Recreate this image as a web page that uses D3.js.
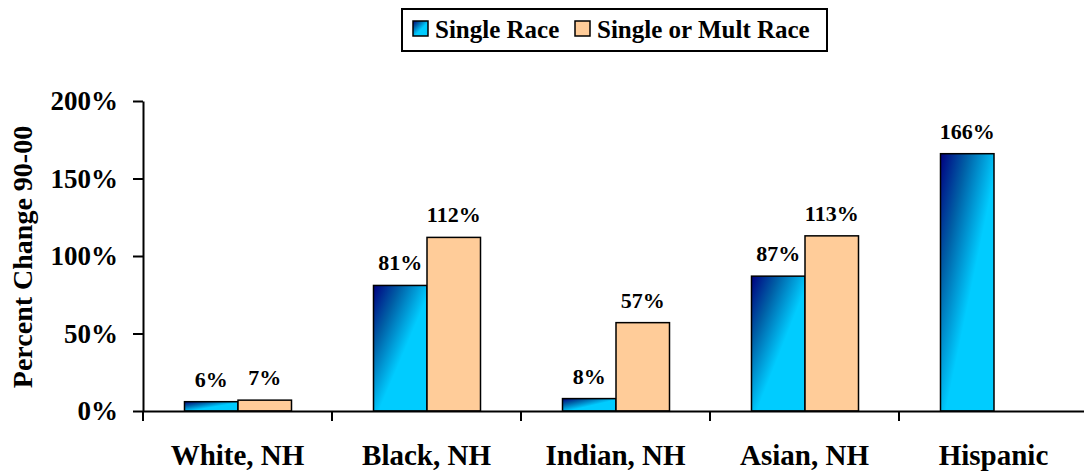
<!DOCTYPE html>
<html>
<head>
<meta charset="utf-8">
<script src="https://cdn.jsdelivr.net/npm/d3@7"></script>
<style>
    body { margin: 0; background: #fff; }
    svg { display: block; font-family: 'Liberation Serif', 'Times New Roman', serif; font-weight: bold; }
</style>
</head>
<body>
<svg id="race-chart" width="1084" height="471"></svg>
<script>
'use strict';

var categories = ['White, NH', 'Black, NH', 'Indian, NH', 'Asian, NH', 'Hispanic']
var seriesNames = ['Single Race', 'Single or Mult Race']
var singleRace = [0.06, 0.81, 0.08, 0.87, 1.66]
var singleOrMult = [0.07, 1.12, 0.57, 1.13, null]
var yTicks = [0, 0.5, 1, 1.5, 2]

var serif = "'Liberation Serif', 'Times New Roman', serif"

var svg = d3.select('#race-chart')

var x = d3.scaleBand()
    .domain(categories)
    .range([143, 1088])

var xInner = d3.scaleBand()
    .domain(seriesNames)
    .range([41.5, 148.5])

var y = d3.scaleLinear()
    .domain([0, 2])
    .range([411, 101])

var fmt = d3.format('.0%')

// gradient for the blue bars: navy top-left fading to cyan
var defs = svg.append('defs')
var grad = defs.append('linearGradient')
    .attr('id', 'blueGrad')
    .attr('x1', 0).attr('y1', 0)
    .attr('x2', 1).attr('y2', 1)
grad.append('stop').attr('offset', 0).attr('stop-color', '#000080')
grad.append('stop').attr('offset', 0.25).attr('stop-color', '#005fa6')
grad.append('stop').attr('offset', 0.55).attr('stop-color', '#00CCFF')
grad.append('stop').attr('offset', 1).attr('stop-color', '#00CCFF')

var fills = ['url(#blueGrad)', '#FFCC99']

var rows = categories.map(function(c, i) {
    return { cat: c, values: [singleRace[i], singleOrMult[i]] }
})

// bars
var groups = svg.append('g')
    .selectAll('g')
    .data(rows)
    .enter().append('g')
    .attr('transform', function(d) { return 'translate(' + x(d.cat) + ',0)'; })

var bars = groups.selectAll('g.bar')
    .data(function(d) {
        return d.values.map(function(v, j) { return { series: seriesNames[j], value: v, idx: j }; })
            .filter(function(e) { return e.value !== null; })
    })
    .enter().append('g')
    .attr('class', 'bar')

bars.append('rect')
    .attr('x', function(d) { return xInner(d.series); })
    .attr('y', function(d) { return y(d.value); })
    .attr('width', xInner.bandwidth())
    .attr('height', function(d) { return y(0) - y(d.value); })
    .attr('fill', function(d) { return fills[d.idx]; })
    .attr('stroke', '#000')
    .attr('stroke-width', 1.5)

bars.append('text')
    .attr('x', function(d) { return xInner(d.series) + xInner.bandwidth() / 2; })
    .attr('y', function(d) { return y(d.value) - 15; })
    .attr('text-anchor', 'middle')
    .style('font-size', '22px')
    .text(function(d) { return fmt(d.value); })

// y axis
var yAxis = svg.append('g')
    .attr('transform', 'translate(143,0)')
    .call(d3.axisLeft(y).tickValues(yTicks).tickFormat(fmt).tickSize(10).tickSizeOuter(0).tickPadding(15))
yAxis.attr('font-family', serif).attr('font-size', 27).attr('font-weight', 'bold')
yAxis.selectAll('path, line').attr('stroke', '#000').attr('stroke-width', 2)
yAxis.selectAll('text').attr('fill', '#000')

// x axis
var xAxis = svg.append('g')
    .attr('transform', 'translate(0,411)')
    .call(d3.axisBottom(x).tickSize(0).tickSizeOuter(0))
xAxis.attr('font-family', serif).attr('font-size', 29).attr('font-weight', 'bold')
xAxis.select('path').attr('stroke', '#000').attr('stroke-width', 2)
xAxis.selectAll('text')
    .attr('y', 54)
    .attr('dy', null)
    .attr('fill', '#000')

var bounds = categories.map(function(c) { return x(c); }).concat([x.range()[1]])
xAxis.selectAll('line.bound')
    .data(bounds)
    .enter().append('line')
    .attr('class', 'bound')
    .attr('x1', function(d) { return d; })
    .attr('x2', function(d) { return d; })
    .attr('y1', 0)
    .attr('y2', 10)
    .attr('stroke', '#000')
    .attr('stroke-width', 2)

// y title
svg.append('text')
    .attr('transform', 'translate(32,257) rotate(-90)')
    .attr('text-anchor', 'middle')
    .style('font-size', '28px')
    .text('Percent Change 90-00')

// legend
var legend = svg.append('g')
legend.append('rect')
    .attr('x', 402).attr('y', 9)
    .attr('width', 425).attr('height', 42)
    .attr('fill', '#fff')
    .attr('stroke', '#000')
    .attr('stroke-width', 2)

var legendX = [413, 575]
var legendTextX = [435, 597]
seriesNames.forEach(function(name, i) {
    legend.append('rect')
        .attr('x', legendX[i]).attr('y', 21)
        .attr('width', 15).attr('height', 15)
        .attr('fill', fills[i])
        .attr('stroke', '#000')
        .attr('stroke-width', 1.5)
    legend.append('text')
        .attr('x', legendTextX[i]).attr('y', 38)
        .style('font-size', '25px')
        .text(name)
})
</script>
</body>
</html>
